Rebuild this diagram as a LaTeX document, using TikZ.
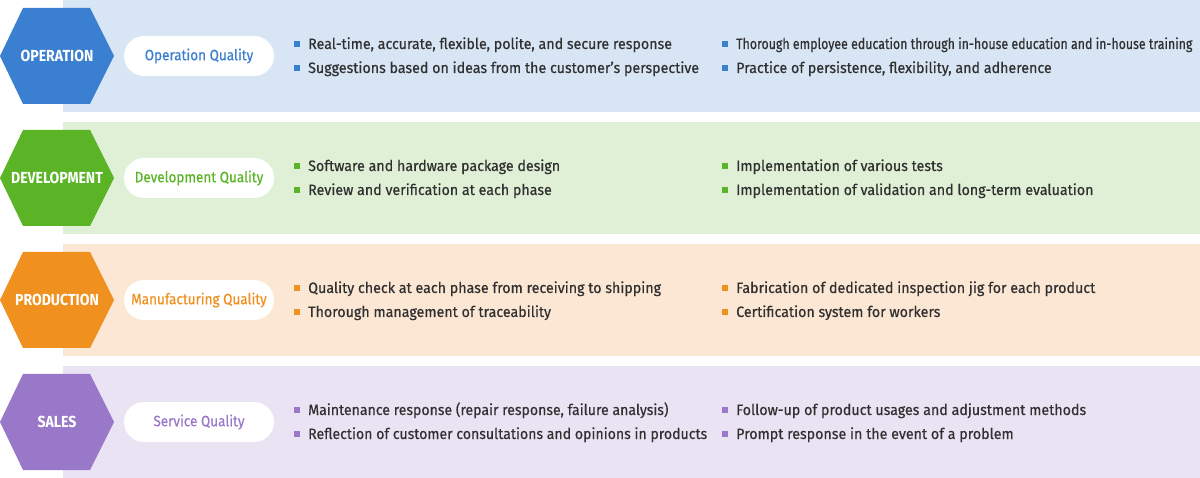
\documentclass[tikz,border=0pt]{standalone}
\usepackage{fontspec}
\setmainfont{Fira Sans}
\newfontfamily\medfont{Fira Sans}[FakeBold=0.5]
\definecolor{opdark}{HTML}{3B7FD0}
\definecolor{oplight}{HTML}{D7E5F5}
\definecolor{devdark}{HTML}{5BB426}
\definecolor{devlight}{HTML}{DFF0D6}
\definecolor{prodark}{HTML}{F0901F}
\definecolor{prolight}{HTML}{FCE7D4}
\definecolor{saldark}{HTML}{9A78C9}
\definecolor{sallight}{HTML}{EAE3F3}
\definecolor{bodytext}{HTML}{303030}
\newcommand\narrow[2][0.95]{\scalebox{#1}[1]{#2}}
% hexagon with its label, centred on the band
\newcommand\hexa[4]{%
  \fill[#2] (0,#3) -- (23,#3-48) -- (90,#3-48) -- (114,#3) -- (90,#3+48) -- (23,#3+48) -- cycle;
  \node[hexlabel] (#1) at (57,#3) {\narrow[0.88]{#4}};}
% one bullet line
\newcommand\qitem[6][0.95]{%
  \fill[#3] (#4,#5-3) rectangle (#4+6,#5+3);
  \node[qtext] (#2) at (#4+14,#5+5) {\narrow[#1]{#6}};}
\tikzset{
  hexlabel/.style={text=white, inner sep=0pt, font=\bfseries\fontsize{16}{16}\selectfont},
  pill/.style={fill=white, rounded corners=20pt, minimum width=150pt, minimum height=40pt,
               inner sep=0pt, font=\medfont\fontsize{15}{15}\selectfont},
  qtext/.style={anchor=base west, inner sep=0pt, text=bodytext, font=\medfont\fontsize{15}{15}\selectfont},
}
\begin{document}
\begin{tikzpicture}[x=1pt, y=-1pt]
    \useasboundingbox (0,0) rectangle (1200,478);
    % bands
    \fill[oplight]  (63,  0) rectangle (1200,112);
    \fill[devlight] (63,122) rectangle (1200,234);
    \fill[prolight] (63,244) rectangle (1200,356);
    \fill[sallight] (63,366) rectangle (1200,478);
    % operation
    \hexa{ophex}{opdark}{56}{OPERATION}
    \node[pill, text=opdark] (oppill) at (199,56) {\narrow[0.9]{Operation Quality}};
    \qitem{opa}{opdark}{294}{44}{Real-time, accurate, flexible, polite, and secure response}
    \qitem{opb}{opdark}{294}{68}{Suggestions based on ideas from the customer’s perspective}
    \qitem[0.825]{opc}{opdark}{722}{44}{Thorough employee education through in-house education and in-house training}
    \qitem{opd}{opdark}{722}{68}{Practice of persistence, flexibility, and adherence}
    % development
    \hexa{devhex}{devdark}{178}{DEVELOPMENT}
    \node[pill, text=devdark] (devpill) at (199,178) {\narrow[0.9]{Development Quality}};
    \qitem{deva}{devdark}{294}{166}{Software and hardware package design}
    \qitem{devb}{devdark}{294}{190}{Review and verification at each phase}
    \qitem{devc}{devdark}{722}{166}{Implementation of various tests}
    \qitem{devd}{devdark}{722}{190}{Implementation of validation and long-term evaluation}
    % production
    \hexa{prohex}{prodark}{300}{PRODUCTION}
    \node[pill, text=prodark] (propill) at (199,300) {\narrow[0.9]{Manufacturing Quality}};
    \qitem{proa}{prodark}{294}{288}{Quality check at each phase from receiving to shipping}
    \qitem{prob}{prodark}{294}{312}{Thorough management of traceability}
    \qitem{proc}{prodark}{722}{288}{Fabrication of dedicated inspection jig for each product}
    \qitem{prod}{prodark}{722}{312}{Certification system for workers}
    % sales
    \hexa{salhex}{saldark}{422}{SALES}
    \node[pill, text=saldark] (salpill) at (199,422) {\narrow[0.9]{Service Quality}};
    \qitem[0.94]{sala}{saldark}{294}{410}{Maintenance response (repair response, failure analysis)}
    \qitem[0.94]{salb}{saldark}{294}{434}{Reflection of customer consultations and opinions in products}
    \qitem{salc}{saldark}{722}{410}{Follow-up of product usages and adjustment methods}
    \qitem{sald}{saldark}{722}{434}{Prompt response in the event of a problem}
\end{tikzpicture}
\end{document}
